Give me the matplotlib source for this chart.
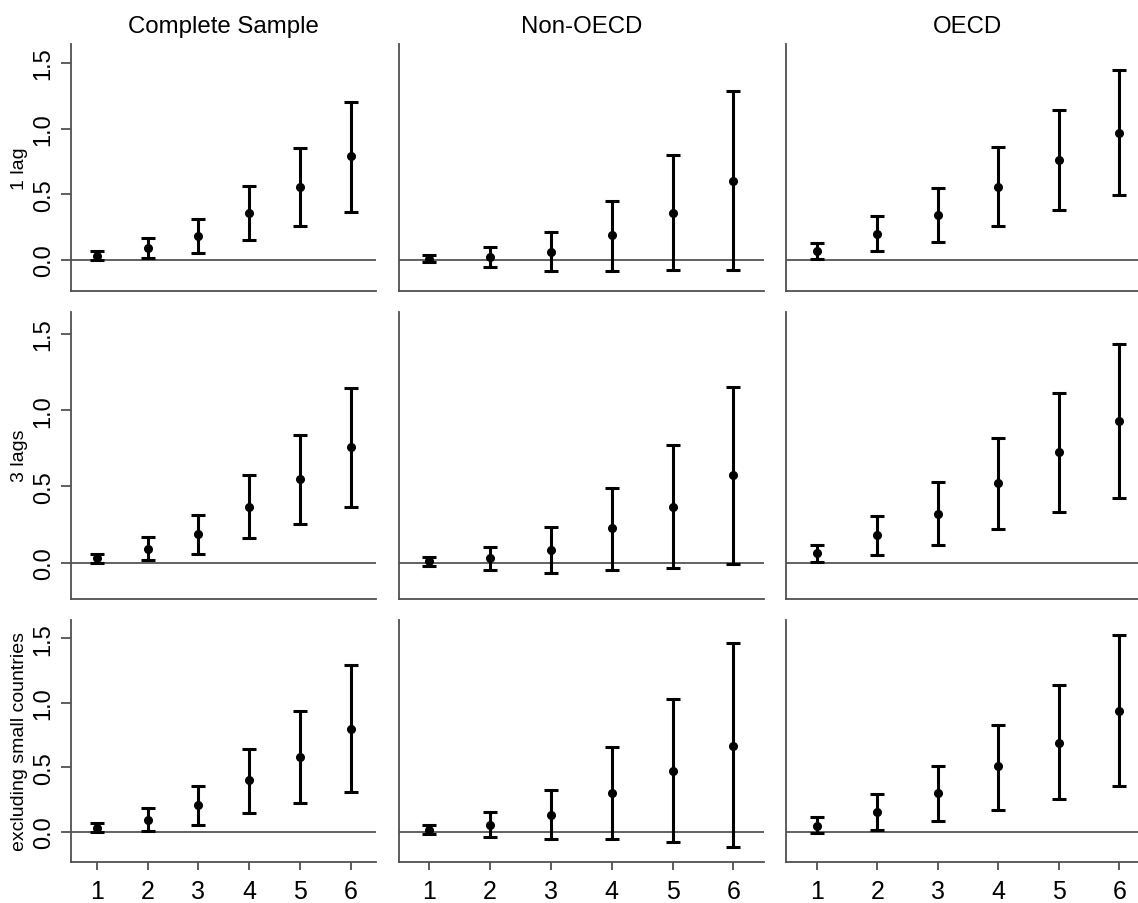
import matplotlib
matplotlib.use("Agg")
import matplotlib.pyplot as plt

plt.rcParams["font.family"] = ["Liberation Sans", "DejaVu Sans"]

horizon = [1, 2, 3, 4, 5, 6]
col_titles = ["Complete Sample", "Non-OECD", "OECD"]
row_labels = ["1 lag", "3 lags", "excluding small countries"]
yticks = [0.0, 0.5, 1.0, 1.5]

# 1 lag
cs1_est = [0.030, 0.094, 0.183, 0.357, 0.553, 0.788]
cs1_lo = [0.002, 0.015, 0.051, 0.152, 0.261, 0.368]
cs1_hi = [0.066, 0.170, 0.314, 0.560, 0.849, 1.204]
non1_est = [0.005, 0.020, 0.063, 0.188, 0.360, 0.603]
non1_lo = [-0.015, -0.051, -0.081, -0.084, -0.078, -0.076]
non1_hi = [0.038, 0.096, 0.210, 0.451, 0.801, 1.285]
oecd1_est = [0.071, 0.200, 0.342, 0.557, 0.763, 0.968]
oecd1_lo = [0.010, 0.066, 0.135, 0.261, 0.380, 0.492]
oecd1_hi = [0.127, 0.337, 0.550, 0.862, 1.138, 1.447]

# 3 lags
cs3_est = [0.029, 0.092, 0.190, 0.363, 0.549, 0.757]
cs3_lo = [0.000, 0.018, 0.059, 0.162, 0.256, 0.365]
cs3_hi = [0.057, 0.167, 0.313, 0.575, 0.835, 1.146]
non3_est = [0.009, 0.029, 0.085, 0.226, 0.365, 0.573]
non3_lo = [-0.020, -0.046, -0.066, -0.046, -0.037, -0.006]
non3_hi = [0.037, 0.101, 0.232, 0.488, 0.772, 1.154]
oecd3_est = [0.061, 0.184, 0.319, 0.521, 0.726, 0.927]
oecd3_lo = [0.004, 0.050, 0.116, 0.223, 0.330, 0.422]
oecd3_hi = [0.116, 0.308, 0.529, 0.820, 1.113, 1.432]

# excluding small countries
csx_est = [0.029, 0.096, 0.209, 0.400, 0.581, 0.800]
csx_lo = [0.000, 0.008, 0.054, 0.150, 0.227, 0.310]
csx_hi = [0.067, 0.183, 0.359, 0.645, 0.940, 1.294]
nonx_est = [0.018, 0.054, 0.134, 0.302, 0.473, 0.664]
nonx_lo = [-0.018, -0.036, -0.052, -0.052, -0.080, -0.119]
nonx_hi = [0.052, 0.152, 0.328, 0.661, 1.030, 1.461]
oecdx_est = [0.049, 0.157, 0.300, 0.509, 0.692, 0.940]
oecdx_lo = [-0.010, 0.015, 0.083, 0.173, 0.253, 0.354]
oecdx_hi = [0.114, 0.297, 0.514, 0.831, 1.136, 1.526]

panels = [
    [(cs1_est, cs1_lo, cs1_hi), (non1_est, non1_lo, non1_hi), (oecd1_est, oecd1_lo, oecd1_hi)],
    [(cs3_est, cs3_lo, cs3_hi), (non3_est, non3_lo, non3_hi), (oecd3_est, oecd3_lo, oecd3_hi)],
    [(csx_est, csx_lo, csx_hi), (nonx_est, nonx_lo, nonx_hi), (oecdx_est, oecdx_lo, oecdx_hi)],
]

W, H = 1138, 904
fig = plt.figure(figsize=(W / 100, H / 100), dpi=100)

# panel boxes in pixels (left, right) and (top, bottom)
cols_px = [(71.3, 376.4), (398.9, 763.7), (786.4, 1149.6)]
rows_px = [(44.7, 291.9), (312.9, 599.5), (620.6, 863.3)]

spine_col = "#505050"

for r in range(3):
    for c in range(3):
        l, rr = cols_px[c]
        t, b = rows_px[r]
        ax = fig.add_axes([l / W, 1 - b / H, (rr - l) / W, (b - t) / H])
        est, lo, hi = panels[r][c]
        yerr = [[e - a for e, a in zip(est, lo)], [h - e for e, h in zip(est, hi)]]
        ax.axhline(0, color="#555555", lw=1.3, zorder=1)
        ax.errorbar(horizon, est, yerr=yerr, fmt="o", color="black", ms=5.5,
                    elinewidth=2.2, capsize=5, capthick=2.2, zorder=3)
        ax.set_xlim(0.5, 6.5)
        ax.set_ylim(-0.235, 1.645)
        for s in ["top", "right"]:
            ax.spines[s].set_visible(False)
        for s in ["left", "bottom"]:
            ax.spines[s].set_color(spine_col)
            ax.spines[s].set_linewidth(1.3)
        ax.tick_params(colors=spine_col, width=1.3, labelcolor="black")
        if c == 0:
            ax.set_yticks(yticks)
            ax.set_yticklabels(["%.1f" % v for v in yticks], rotation=90, va="center")
            ax.tick_params(axis="y", length=7, pad=5, labelsize=17)
        else:
            ax.set_yticks([])
        if r == 2:
            ax.set_xticks(horizon)
            ax.tick_params(axis="x", length=6, pad=6, labelsize=18)
        else:
            ax.set_xticks([])
        if r == 0:
            fig.text((l + rr) / 2 / W, 1 - 27 / H, col_titles[c],
                     ha="center", va="center", fontsize=17.3)
    t, b = rows_px[r]
    fig.text(20 / W, 1 - (t + b) / 2 / H, row_labels[r], rotation=90,
             ha="center", va="center", fontsize=14)

fig.savefig("out.png", dpi=100)
